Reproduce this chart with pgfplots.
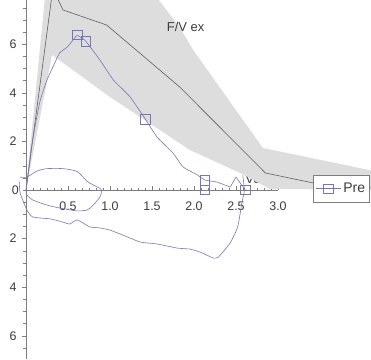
\documentclass[border=0pt]{standalone}
\usepackage{pgfplots}
\pgfplotsset{compat=1.18}
\usepackage{fontspec}
\setmainfont{Liberation Sans}

\definecolor{bandgray}{RGB}{221,221,221}
\definecolor{predline}{RGB}{95,95,95}
\definecolor{meas}{RGB}{118,118,180}
\definecolor{axisgray}{RGB}{125,125,125}
\definecolor{textgray}{RGB}{60,60,60}

\begin{document}
\begin{tikzpicture}
\begin{axis}[
  name=fv,
  width=371bp, height=359bp, scale only axis,
  xmin=-0.3095, xmax=4.107, ymin=-6.955, ymax=7.82,
  axis lines=middle,
  axis line style={-},
  x axis line style={draw=none},
  y axis line style={draw=axisgray, line width=0.6pt},
  xtick={0.5,1,1.5,2,2.5,3},
  xticklabels={0.5,1.0,1.5,2.0,2.5,3.0},
  minor xtick={0,0.0833333,...,3.01},
  ytick={-6,-4,-2,0,2,4,6},
  yticklabels={6,4,2,0,2,4,6},
  minor ytick={-6.5,-6,...,7.6},
  xtick align=inside, ytick align=outside,
  major tick length=4bp, minor tick length=2.5bp,
  every tick/.style={axisgray, line width=0.5pt},
  every minor tick/.style={axisgray, line width=0.4pt},
  tick label style={font=\fontsize{12.5}{14}\selectfont, text=textgray},
  /pgf/number format/assume math mode=true,
  xticklabel style={yshift=-8bp},
  yticklabel style={xshift=-2bp},
  clip=true,
  legend image code/.code={
    \draw[mark repeat=2, mark phase=2] plot coordinates {(0cm,0cm) (0.45cm,0cm) (0.9cm,0cm)};
  },
  legend style={at={(0.8437,0.5125)}, anchor=north west,
    draw=axisgray, fill=white, text=textgray,
    font=\fontsize{14}{16}\selectfont, inner xsep=2bp, inner ysep=6bp},
]

% volume label, partly under the normal range
\node[text=textgray, font=\fontsize{13}{15}\selectfont] at (axis cs:2.72,0.45) {Vol};

% predicted normal range
\addplot[fill=bandgray, draw=none, forget plot] coordinates {
  (0,0) (0.225,7.9) (1.58,7.82) (1.83,6.70) (1.99,5.76) (2.82,1.73) (4.2,0.74)
  (4.2,0.0) (2.9,0.05) (2.55,0.70) (1.95,1.65) (1.0,3.83) (0.31,5.56) (0,0)
} -- cycle;

% axis caption
\node[text=textgray, font=\fontsize{13}{15}\selectfont] at (axis cs:1.90,6.72) {F/V ex};
% zero label where both axes meet
\node[text=textgray, font=\fontsize{12.5}{14}\selectfont, anchor=east] at (axis cs:-0.045,0) {0};

% x axis line
\addplot[axisgray, line width=0.6pt, forget plot] coordinates {(0,0) (3,0)};

% predicted curve
\addplot[predline, line width=0.6pt, forget plot] coordinates {
  (0,0) (0.32,8.3) (0.44,7.41) (0.96,6.79) (1.83,4.24) (2.85,0.70) (3.42,0.29) (4.2,0.06)
};

% measured expiratory curve
\addplot[meas, line width=0.6pt, smooth, tension=0.3, forget plot] coordinates {
  (0,0) (0.02,0.49) (0.06,1.65) (0.11,2.67) (0.17,3.7) (0.25,4.53) (0.32,5.06)
  (0.40,5.64) (0.49,5.88) (0.56,6.17) (0.61,6.36) (0.71,6.13) (0.88,5.35)
  (1.04,4.53) (1.24,3.83) (1.42,2.92) (1.56,2.18) (1.75,1.52) (1.87,0.95)
  (2.04,0.62) (2.13,0.41) (2.27,0.33) (2.43,0.12)
};
\addplot[meas, line width=0.6pt, forget plot] coordinates {
  (2.43,0.12) (2.50,0.53) (2.61,0.0)
};

% measured inspiratory curve
\addplot[meas, line width=0.6pt, smooth, tension=0.3, forget plot] coordinates {
  (-0.08,0.35) (-0.07,-0.12) (0.01,-0.82) (0.08,-1.11) (0.29,-1.19) (0.44,-1.32)
  (0.52,-1.40) (0.61,-1.23) (0.76,-1.52) (0.88,-1.56) (1.0,-1.65) (1.15,-1.85)
  (1.36,-2.14) (1.56,-2.22) (1.80,-2.39) (1.95,-2.43) (2.07,-2.55) (2.23,-2.80)
  (2.29,-2.76) (2.43,-2.18) (2.52,-1.52) (2.57,-0.53) (2.60,0.0) (2.58,0.6)
};

% second, short trial loop
\addplot[meas, line width=0.6pt, smooth, tension=0.4, forget plot] coordinates {
  (-0.07,0.53) (0.01,0.53) (0.13,0.78) (0.25,0.88) (0.44,0.88) (0.61,0.76)
  (0.73,0.35) (0.85,0.12) (0.90,0.0) (0.88,-0.29) (0.80,-0.62) (0.73,-0.82)
  (0.61,-0.86) (0.40,-0.74) (0.25,-0.62) (0.08,-0.41) (0.01,-0.2) (0,0)
};

% index points
\addplot[meas, only marks, mark=square, mark size=4.8pt, line width=0.6pt, forget plot] coordinates {
  (0.61,6.38) (0.71,6.13) (1.42,2.92) (2.13,0.41) (2.13,0.0) (2.61,0.0)
};

\addlegendimage{meas, line width=0.6pt, mark=square, mark size=4.8pt}
\addlegendentry{Pre}
\end{axis}
\pgfresetboundingbox
\path[use as bounding box] (fv.south west) rectangle (fv.north east);
\end{tikzpicture}
\end{document}
